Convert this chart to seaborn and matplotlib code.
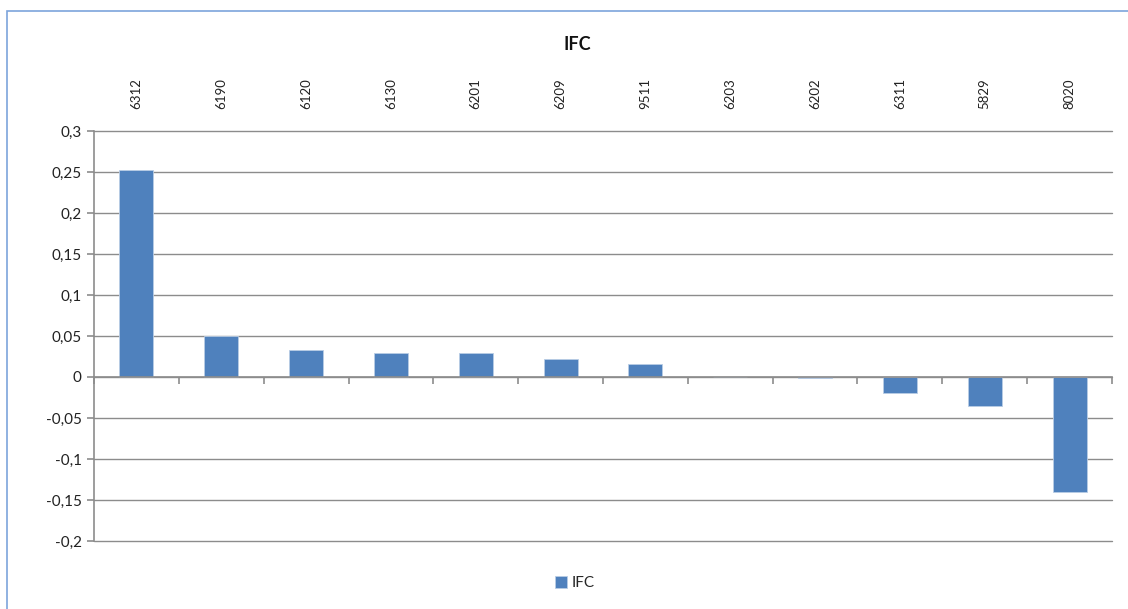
import matplotlib
matplotlib.use("Agg")
import matplotlib.pyplot as plt
import seaborn as sns
import pandas as pd
from matplotlib.patches import Rectangle

codes = ["6312", "6190", "6120", "6130", "6201", "6209", "9511", "6203", "6202", "6311", "5829", "8020"]
ifc = [0.253, 0.050, 0.033, 0.029, 0.029, 0.022, 0.0155, 0.0, -0.0017, -0.019, -0.035, -0.140]
yticks = [0.3, 0.25, 0.2, 0.15, 0.1, 0.05, 0, -0.05, -0.1, -0.15, -0.2]
ylabels = ["0,3", "0,25", "0,2", "0,15", "0,1", "0,05", "0", "-0,05", "-0,1", "-0,15", "-0,2"]

sns.set_style("white")
plt.rcParams["font.family"] = ["Lato", "DejaVu Sans"]

df = pd.DataFrame({"code": codes, "IFC": ifc})

fig = plt.figure(figsize=(11.28, 6.09), dpi=100)
ax = fig.add_axes([94/1128, 1-541/609, (1112-94)/1128, (541-131)/609])

bar_color = "#4F81BD"
sns.barplot(data=df, x="code", y="IFC", order=codes, color=bar_color, width=0.4,
            ax=ax, edgecolor="#B9CDE5", linewidth=0.6, saturation=1)

ax.set_xlim(-0.5, len(codes) - 0.5)
ax.set_ylim(-0.2, 0.3)
ax.set_yticks(yticks)
ax.set_yticklabels(ylabels)
ax.yaxis.grid(True, color="#8C8C8C", linewidth=1)
for gl in ax.yaxis.get_gridlines():
    gl.set_clip_on(False)
ax.set_axisbelow(True)
ax.set_xlabel("")
ax.set_ylabel("")

for s in ["top", "right"]:
    ax.spines[s].set_visible(False)
ax.spines["left"].set_color("#8C8C8C")
ax.spines["left"].set_linewidth(1.2)
ax.spines["bottom"].set_position(("data", 0))
ax.spines["bottom"].set_color("#8C8C8C")
ax.spines["bottom"].set_linewidth(1.2)

ax.set_xticks(range(len(codes)))
ax.set_xticklabels(codes, rotation=90)
ax.tick_params(axis="x", which="major", bottom=False, top=False, labelbottom=False,
               labeltop=True, labelsize=9.5, pad=12, labelcolor="#222222")
ax.set_xticks([i - 0.5 for i in range(len(codes) + 1)], minor=True)
ax.tick_params(axis="x", which="minor", bottom=True, direction="out", length=5,
               color="#8C8C8C", width=1.2)
ax.tick_params(axis="y", left=True, direction="out", length=5, color="#8C8C8C",
               width=1.2, labelsize=11, labelcolor="#222222", pad=4)

fig.text(577/1128, 1-44/609, "IFC", ha="center", va="center", fontsize=13,
         fontweight="bold", color="#111111")

fig.legend(handles=ax.patches[:1], labels=["IFC"],
           loc="center", bbox_to_anchor=(575/1128, 1-583/609), frameon=False,
           fontsize=11, handlelength=0.8, handleheight=0.8, handletextpad=0.3)

fig.patches.append(Rectangle((7/1128, -0.05), 1.1, 1-11/609+0.05, transform=fig.transFigure,
                             fill=False, edgecolor="#7DA4DB", linewidth=1.2, figure=fig))

fig.savefig("out.png", dpi=100)
